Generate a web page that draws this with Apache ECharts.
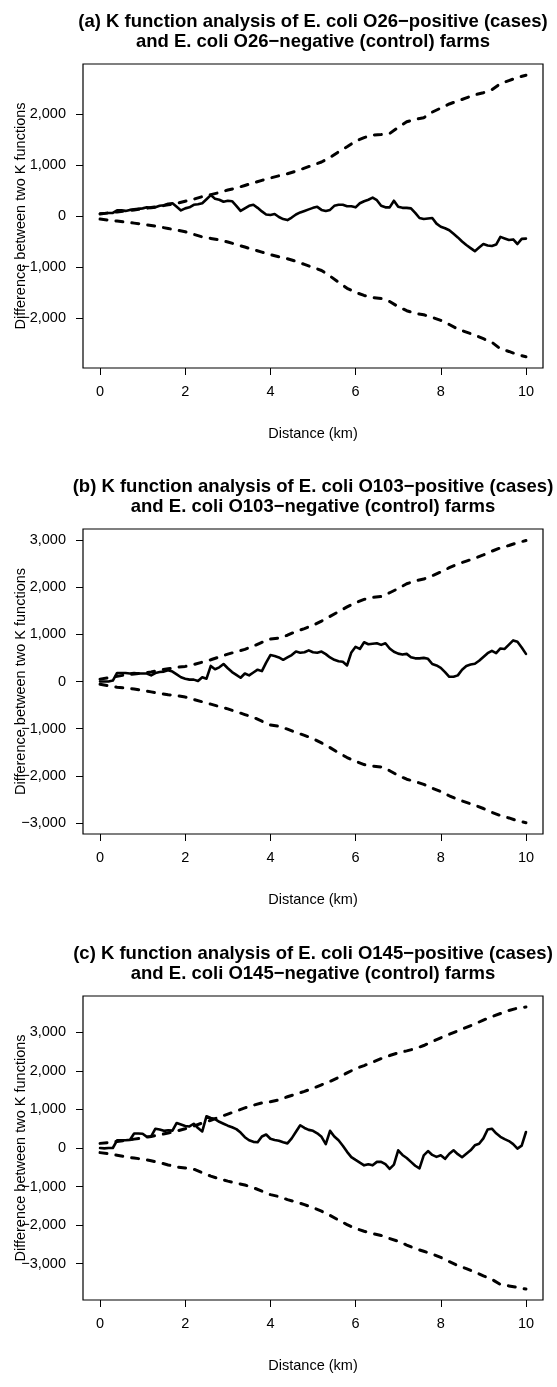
<!DOCTYPE html>
<html>
<head>
<meta charset="utf-8">
<script src="https://cdn.jsdelivr.net/npm/echarts@6/dist/echarts.min.js"></script>
<style>
html,body{margin:0;padding:0;background:#fff;}
#chart{width:557px;height:1387px;}
</style>
</head>
<body>
<div id="chart"></div>
<script>
// Distance grid (km)
const dist01 = [0,0.1,0.2,0.3,0.4,0.5,0.6,0.7,0.8,0.9,1,1.1,1.2,1.3,1.4,1.5,1.6,1.7,1.8,1.9,2,2.1,2.2,2.3,2.4,2.5,2.6,2.7,2.8,2.9,3,3.1,3.2,3.3,3.4,3.5,3.6,3.7,3.8,3.9,4,4.1,4.2,4.3,4.4,4.5,4.6,4.7,4.8,4.9,5,5.1,5.2,5.3,5.4,5.5,5.6,5.7,5.8,5.9,6,6.1,6.2,6.3,6.4,6.5,6.6,6.7,6.8,6.9,7,7.1,7.2,7.3,7.4,7.5,7.6,7.7,7.8,7.9,8,8.1,8.2,8.3,8.4,8.5,8.6,8.7,8.8,8.9,9,9.1,9.2,9.3,9.4,9.5,9.6,9.7,9.8,9.9,10];
const dist02 = [0,0.2,0.4,0.6,0.8,1,1.2,1.4,1.6,1.8,2,2.2,2.4,2.6,2.8,3,3.2,3.4,3.6,3.8,4,4.2,4.4,4.6,4.8,5,5.2,5.4,5.6,5.8,6,6.2,6.4,6.6,6.8,7,7.2,7.4,7.6,7.8,8,8.2,8.4,8.6,8.8,9,9.2,9.4,9.6,9.8,10];

// (a) O26
const aObs = [50,55,60,60,110,110,100,120,130,140,150,170,160,170,200,210,240,250,180,110,150,170,220,230,250,330,410,340,320,280,300,290,200,100,150,200,220,160,90,30,20,40,-20,-60,-80,-30,30,70,100,130,160,180,120,100,120,200,220,220,190,190,170,250,290,320,360,310,200,170,170,300,180,160,160,150,60,-40,-60,-50,-40,-150,-210,-240,-280,-350,-420,-500,-570,-630,-690,-620,-550,-580,-590,-560,-410,-440,-470,-460,-550,-450,-445];
const aHi = [40,60,80,100,120,140,165,190,220,250,290,330,380,420,460,510,550,600,650,700,745,790,830,880,940,1000,1060,1150,1260,1360,1470,1540,1590,1600,1620,1740,1850,1900,1930,2040,2120,2200,2260,2320,2380,2420,2480,2600,2660,2720,2765];
const aLo = [-60,-80,-100,-120,-140,-160,-185,-215,-245,-275,-310,-360,-410,-440,-470,-510,-560,-610,-660,-710,-760,-800,-840,-890,-950,-1010,-1070,-1180,-1300,-1420,-1500,-1560,-1600,-1620,-1680,-1780,-1860,-1910,-1940,-1990,-2050,-2130,-2220,-2280,-2340,-2410,-2480,-2610,-2660,-2720,-2765];

// (b) O103
const bObs = [0,0,0,20,180,180,180,170,180,170,170,170,130,180,200,210,240,210,150,90,60,40,40,10,90,60,330,260,300,370,280,200,140,80,170,130,190,250,220,400,560,540,510,460,510,560,635,610,620,660,620,610,635,580,510,460,430,420,340,615,735,690,830,790,800,810,775,810,700,630,590,570,585,515,490,490,500,480,370,340,290,200,100,100,130,250,330,360,375,440,520,600,650,600,700,690,780,870,840,720,585];
const bHi = [50,80,110,140,160,180,200,240,270,300,320,360,410,460,520,580,630,680,750,830,900,920,980,1060,1120,1190,1280,1380,1480,1580,1670,1740,1780,1800,1880,1970,2070,2130,2170,2240,2320,2410,2490,2550,2610,2680,2760,2830,2880,2940,2985];
const bLo = [-60,-90,-120,-140,-160,-190,-220,-250,-280,-300,-330,-380,-430,-480,-530,-580,-640,-700,-760,-840,-920,-950,-1010,-1080,-1140,-1210,-1300,-1400,-1510,-1610,-1690,-1760,-1790,-1810,-1890,-1990,-2070,-2120,-2180,-2260,-2330,-2420,-2500,-2560,-2620,-2690,-2770,-2840,-2890,-2950,-2990];

// (c) O145
const cObs = [0,-10,0,0,200,200,200,210,375,375,370,290,300,500,480,445,460,450,650,610,570,560,630,520,430,825,780,750,680,630,580,540,490,400,280,200,160,150,300,350,240,210,190,150,120,250,420,590,520,470,445,380,290,100,445,300,200,60,-100,-235,-310,-380,-450,-420,-450,-360,-360,-420,-540,-430,-60,-180,-260,-360,-460,-530,-190,-80,-180,-230,-190,-280,-150,-60,-160,-240,-150,-60,70,110,250,480,500,380,290,230,180,100,-15,60,415];
const cHi = [120,140,170,200,230,260,300,340,390,440,500,570,650,720,800,880,960,1040,1110,1170,1200,1250,1330,1400,1470,1550,1640,1730,1830,1950,2060,2140,2230,2320,2400,2470,2520,2580,2660,2760,2860,2950,3040,3130,3220,3320,3410,3490,3570,3630,3660];
const cLo = [-120,-150,-190,-230,-260,-290,-330,-380,-440,-490,-520,-550,-640,-730,-800,-860,-910,-960,-1030,-1120,-1210,-1260,-1340,-1400,-1470,-1550,-1640,-1750,-1870,-1990,-2090,-2160,-2220,-2270,-2350,-2420,-2520,-2610,-2680,-2750,-2840,-2950,-3050,-3130,-3220,-3320,-3410,-3540,-3580,-3620,-3660];

// Tick values
const xTicks = [0,2,4,6,8,10];
const yTicksA = [-2000,-1000,0,1000,2000];
const yTicksB = [-3000,-2000,-1000,0,1000,2000,3000];
const yTicksC = [-3000,-2000,-1000,0,1000,2000,3000];

const titles = [
  '(a) K function analysis of E. coli O26\u2212positive (cases)\nand E. coli O26\u2212negative (control) farms',
  '(b) K function analysis of E. coli O103\u2212positive (cases)\nand E. coli O103\u2212negative (control) farms',
  '(c) K function analysis of E. coli O145\u2212positive (cases)\nand E. coli O145\u2212negative (control) farms'
];
const xTitle = 'Distance (km)';
const yTitle = 'Difference between two K functions';

const FONT = '"Liberation Sans", Arial, Helvetica, sans-serif';
const AX = 14.5;

const panels = [
  {top: 64, height: 304, ylim: 2985, ticks: yTicksA, obs: aObs, hi: aHi, lo: aLo},
  {top: 529, height: 305, ylim: 3230, ticks: yTicksB, obs: bObs, hi: bHi, lo: bLo},
  {top: 996, height: 304, ylim: 3945, ticks: yTicksC, obs: cObs, hi: cHi, lo: cLo}
];

function fmt(v){
  const s = Math.abs(v).toLocaleString('en-US');
  return (v < 0 ? '\u2212' : '') + s;
}
function pairs(xs, ys){ return ys.map((y,i)=>[xs[i], y]); }

const grid = [], xAxis = [], yAxis = [], series = [], graphic = [];
panels.forEach((p, i) => {
  grid.push({left: 83, width: 460, top: p.top, height: p.height, show: true,
    borderColor: '#000', borderWidth: 1.2, backgroundColor: 'transparent',
    containLabel: false, outerBoundsMode: 'none'});
  xAxis.push({type: 'value', gridIndex: i, min: -0.4, max: 10.4,
    name: xTitle, nameLocation: 'middle', nameGap: 58, nameMoveOverlap: false,
    nameTextStyle: {fontFamily: FONT, fontSize: AX, color: '#000'},
    axisLine: {show: false, onZero: false},
    axisTick: {show: true, length: 7, lineStyle: {color: '#000', width: 1}, customValues: xTicks},
    axisLabel: {show: true, margin: 16, fontFamily: FONT, fontSize: AX, color: '#000', customValues: xTicks},
    splitLine: {show: false}});
  yAxis.push({type: 'value', gridIndex: i, min: -p.ylim, max: p.ylim,
    name: yTitle, nameLocation: 'middle', nameGap: 55, nameMoveOverlap: false,
    nameTextStyle: {fontFamily: FONT, fontSize: AX, color: '#000'},
    axisLine: {show: false, onZero: false},
    axisTick: {show: true, length: 7, lineStyle: {color: '#000', width: 1}, customValues: p.ticks},
    axisLabel: {show: true, margin: 17, fontFamily: FONT, fontSize: AX, color: '#000', customValues: p.ticks, formatter: fmt},
    splitLine: {show: false}});
  const dashStyle = {color: '#000', width: 3, type: [7, 9], cap: 'round'};
  series.push({type: 'line', xAxisIndex: i, yAxisIndex: i, data: pairs(dist02, p.hi),
    showSymbol: false, symbol: 'none', lineStyle: dashStyle, z: 2, silent: true});
  series.push({type: 'line', xAxisIndex: i, yAxisIndex: i, data: pairs(dist02, p.lo),
    showSymbol: false, symbol: 'none', lineStyle: dashStyle, z: 2, silent: true});
  series.push({type: 'line', xAxisIndex: i, yAxisIndex: i, data: pairs(dist01, p.obs),
    showSymbol: false, symbol: 'none', lineStyle: {color: '#000', width: 2.6, join: 'round', cap: 'round'}, z: 3, silent: true});
  graphic.push({type: 'text', x: 313, y: p.top - 52, silent: true,
    style: {text: titles[i], fontFamily: FONT, fontSize: 18.5, fontWeight: 'bold', fill: '#000',
      textAlign: 'center', textVerticalAlign: 'top', lineHeight: 20}});
});

const chart = echarts.init(document.getElementById('chart'), null, {renderer: 'canvas'});
chart.setOption({animation: false, backgroundColor: '#fff', grid, xAxis, yAxis, series, graphic});
</script>
</body>
</html>
